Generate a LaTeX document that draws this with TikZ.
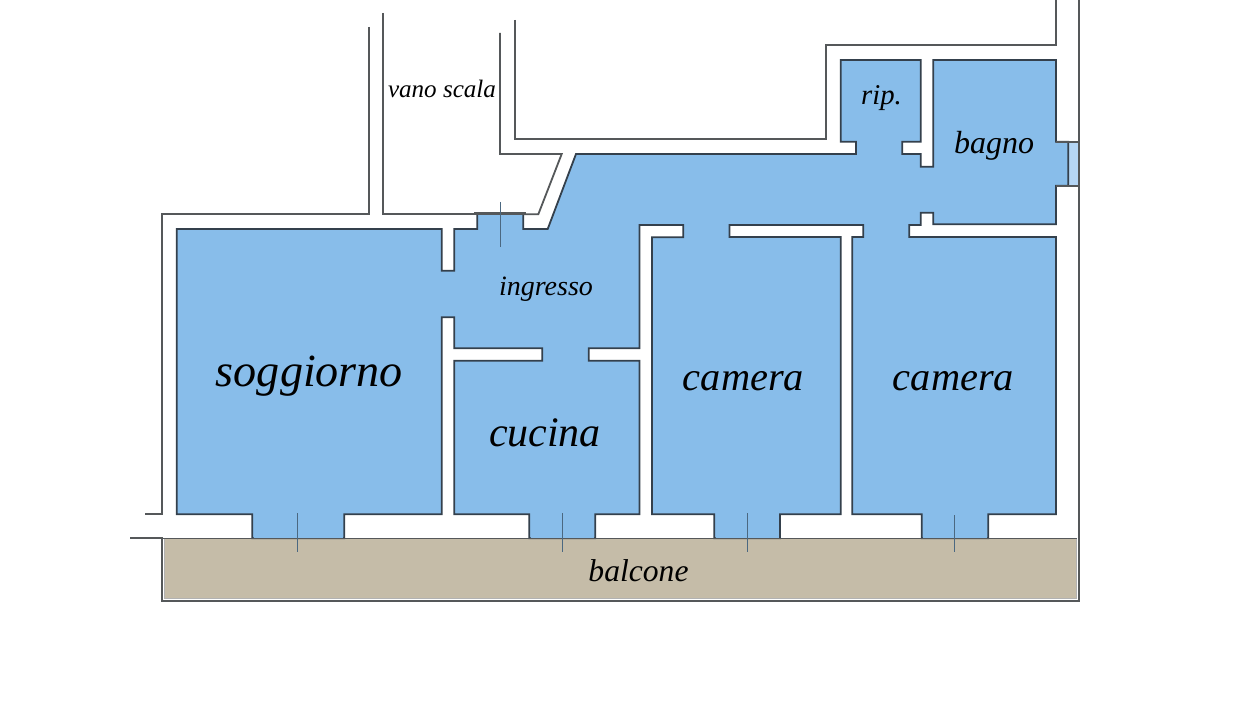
\documentclass[tikz,border=0pt]{standalone}
\usepackage{fontspec}
\setmainfont{Liberation Serif}
\definecolor{roomblue}{HTML}{88BDEA}
\definecolor{winblue}{HTML}{B5D6F5}
\definecolor{terrace}{HTML}{C5BCA8}
\definecolor{wallink}{HTML}{34404C}
\definecolor{outerink}{HTML}{55585A}
\tikzset{
  wall/.style={draw=wallink,line width=1.35pt,line join=miter},
  outer/.style={draw=outerink,line width=1.35pt,line join=miter},
  sill/.style={draw=roomblue,line width=2pt},
  tick/.style={draw=black!45!roomblue,line width=0.6pt},
  room/.style={inner sep=0pt,text=black,font=\itshape}
}
\newcommand{\fsz}[1]{\fontsize{#1}{#1}\selectfont}
\begin{document}
\begin{tikzpicture}[x=0.75pt,y=-0.75pt]
\useasboundingbox (0,0) rectangle (1240,720);
\fill[white] (0,0) rectangle (1240,720);
% balcony
\fill[terrace] (164.5,538.5) rectangle (1076.5,598);
\draw[black!30,line width=0.8pt] (164.5,538.5) -- (164.5,598.5) -- (1076.5,598.5) -- (1076.5,538.5);
% window
\fill[winblue] (1068.3,142) rectangle (1079,186);
\draw[wall] (1068.3,142) -- (1068.3,186);
% rooms
\path[fill=roomblue,wall] (840.7,60) -- (920.7,60) -- (920.7,141.7) -- (902.3,141.7) -- (902.3,154) -- (920.7,154) -- (920.7,166.7) -- (933.3,166.7) -- (933.3,60) -- (1056,60) -- (1056,141.7) -- (1068.3,141.7) -- (1068.3,185.7) -- (1056,185.7) -- (1056,224.3) -- (933.3,224.3) -- (933.3,212.7) -- (920.7,212.7) -- (920.7,225) -- (909.3,225) -- (909.3,237) -- (1056,237) -- (1056,514.3) -- (988.3,514.3) -- (988.3,538.3) -- (921.7,538.3) -- (921.7,514.3) -- (852.3,514.3) -- (852.3,237) -- (863.3,237) -- (863.3,225) -- (729.5,225) -- (729.5,237) -- (840.7,237) -- (840.7,514.3) -- (780,514.3) -- (780,538.3) -- (714.3,538.3) -- (714.3,514.3) -- (652,514.3) -- (652,237.3) -- (683.3,237.3) -- (683.3,225) -- (639.5,225) -- (639.5,348.3) -- (588.7,348.3) -- (588.7,360.7) -- (639.5,360.7) -- (639.5,514.3) -- (595.3,514.3) -- (595.3,538.3) -- (529.3,538.3) -- (529.3,514.3) -- (454.3,514.3) -- (454.3,360.7) -- (542.3,360.7) -- (542.3,348.3) -- (454.3,348.3) -- (454.3,317.3) -- (441.7,317.3) -- (441.7,514.3) -- (344.3,514.3) -- (344.3,538.3) -- (252.3,538.3) -- (252.3,514.3) -- (176.7,514.3) -- (176.7,229) -- (441.7,229) -- (441.7,270.7) -- (454.3,270.7) -- (454.3,229) -- (477.3,229) -- (477.3,213.3) -- (523.3,213.3) -- (523.3,229) -- (547.7,229) -- (576,154) -- (856,154) -- (856,141.7) -- (840.7,141.7) -- cycle;
% soften the door sills
\draw[sill] (253.5,537.5) -- (343,537.5);
\draw[sill] (530.5,537.5) -- (594,537.5);
\draw[sill] (715.5,537.5) -- (778.8,537.5);
\draw[sill] (922.9,537.5) -- (987.1,537.5);
% outer lines
\draw[outer] (369,27) -- (369,214.3) -- (162.3,214.3) -- (162.3,514.3) -- (145,514.3);
\draw[outer] (383.3,13) -- (383.3,214.3) -- (477,214.3);
\draw[outer] (500,33) -- (500,154) -- (561.7,154) -- (538.3,214.3) -- (523.3,214.3);
\draw[outer] (515,20) -- (515,139.3) -- (826.3,139.3) -- (826.3,45.3) -- (1056,45.3) -- (1056,0);
\draw[outer] (1056,185.7) -- (1079.3,185.7);
\draw[outer] (1056,141.7) -- (1079.3,141.7);
\draw[outer] (1079.3,0) -- (1079.3,601) -- (162.3,601) -- (162.3,538.3) -- (130,538.3);
\draw[outer,line width=1pt] (162.3,538.3) -- (1076.5,538.3);
\draw[line width=1.7pt,draw=outerink] (474,213.5) -- (526,213.5);
% door and window ticks
\draw[tick] (500,202) -- (500,247);
\draw[tick] (297.3,513) -- (297.3,551.5);
\draw[tick] (562.5,513) -- (562.5,551.5);
\draw[tick] (747.5,513) -- (747.5,551.5);
\draw[tick] (954.3,515) -- (954.3,551.5);
% labels
\node[room] (soggiorno) at (309.5,376) {\fsz{34.6}soggiorno};
\node[room] (cucina) at (545,433) {\fsz{31.5}cucina};
\node[room] (camera1) at (743.5,381) {\fsz{30.3}camera};
\node[room] (camera2) at (953.5,381) {\fsz{30.3}camera};
\node[room] (balcone) at (638.5,571) {\fsz{23.7}balcone};
\node[room] (ingresso) at (546,289) {\fsz{21}ingresso};
\node[room] (vano) at (442,89) {\fsz{18.8}vano scala};
\node[room] (rip) at (881.5,98) {\fsz{21.5}rip.};
\node[room] (bagno) at (994,146) {\fsz{24}bagno};
\end{tikzpicture}
\end{document}
